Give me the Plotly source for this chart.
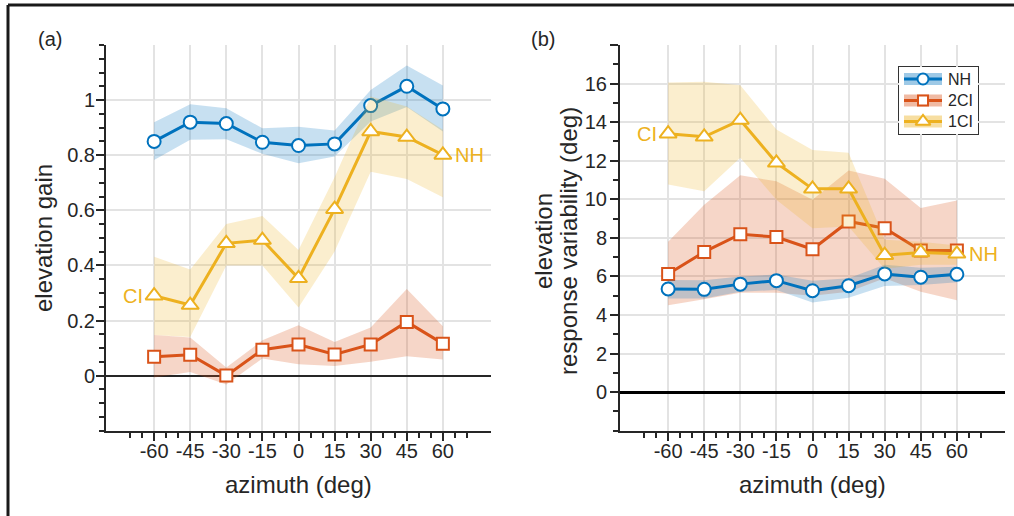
import plotly.graph_objects as go

# ---------------- data ----------------
azimuth = [-60, -45, -30, -15, 0, 15, 30, 45, 60]
x_major_ticks = [-60, -45, -30, -15, 0, 15, 30, 45, 60]
x_tick_labels = ["-60", "-45", "-30", "-15", "0", "15", "30", "45", "60"]
x_minor_ticks = [-70, -65, -55, -50, -40, -35, -25, -20, -10, -5, 5, 10, 20, 25, 35, 40, 50, 55, 65, 70]

# panel (a): elevation gain
gain_nh = [0.85, 0.92, 0.915, 0.847, 0.835, 0.841, 0.98, 1.05, 0.968]
gain_nh_hi = [0.92, 0.985, 0.97, 0.898, 0.903, 0.89, 1.037, 1.126, 1.053]
gain_nh_lo = [0.783, 0.856, 0.858, 0.805, 0.771, 0.795, 0.922, 0.975, 0.886]

gain_2ci = [0.068, 0.076, 0.0, 0.094, 0.113, 0.077, 0.113, 0.195, 0.116]
gain_2ci_hi = [0.147, 0.138, 0.029, 0.128, 0.183, 0.122, 0.175, 0.314, 0.179]
gain_2ci_lo = [-0.007, 0.013, -0.032, 0.062, 0.041, 0.035, 0.05, 0.07, 0.058]

gain_1ci = [0.29, 0.256, 0.48, 0.492, 0.353, 0.604, 0.886, 0.866, 0.801]
gain_1ci_hi = [0.431, 0.385, 0.55, 0.579, 0.456, 0.72, 1.013, 0.977, 0.892]
gain_1ci_lo = [0.147, 0.14, 0.40, 0.40, 0.247, 0.45, 0.74, 0.714, 0.647]

gain_tickvals = [0, 0.2, 0.4, 0.6, 0.8, 1]
gain_ticktext = ["0", "0.2", "0.4", "0.6", "0.8", "1"]

# panel (b): elevation response variability (deg)
var_nh = [5.35, 5.33, 5.6, 5.78, 5.26, 5.52, 6.13, 5.96, 6.11]
var_nh_hi = [5.82, 5.8, 6.0, 6.1, 5.78, 5.9, 6.6, 6.45, 6.5]
var_nh_lo = [4.85, 4.85, 5.2, 5.3, 4.65, 4.9, 5.5, 5.55, 5.7]

var_2ci = [6.13, 7.27, 8.19, 8.04, 7.41, 8.85, 8.5, 7.34, 7.34]
var_2ci_hi = [7.8, 9.72, 11.24, 10.93, 9.98, 11.49, 11.07, 9.55, 9.94]
var_2ci_lo = [4.51, 4.81, 5.15, 5.15, 5.0, 5.2, 5.9, 5.2, 4.77]

var_1ci = [13.4, 13.24, 14.11, 11.89, 10.54, 10.54, 7.1, 7.24, 7.17]
var_1ci_hi = [16.05, 16.09, 15.91, 13.62, 12.55, 12.41, 7.9, 7.8, 7.6]
var_1ci_lo = [10.76, 10.41, 12.15, 9.98, 8.5, 8.59, 6.4, 6.6, 6.6]

var_tickvals = [0, 2, 4, 6, 8, 10, 12, 14, 16, 18]
var_ticktext = ["0", "2", "4", "6", "8", "10", "12", "14", "16", ""]

series_names = ["NH", "2CI", "1CI"]
# --------------------------------------

colors = {"NH": "#0072BD", "2CI": "#D95319", "1CI": "#EDB120"}
bands = {"NH": "rgba(0,114,189,0.22)", "2CI": "rgba(217,83,25,0.24)", "1CI": "rgba(237,177,32,0.22)"}
legend_bands = {"NH": "rgba(0,114,189,0.38)", "2CI": "rgba(217,83,25,0.40)", "1CI": "rgba(237,177,32,0.42)"}
symbols = {"NH": "circle", "2CI": "square", "1CI": "triangle-up"}
msize = {"NH": 13, "2CI": 12, "1CI": 15}
FONT = "Liberation Sans, Arial, Helvetica, sans-serif"
AX = "#262626"

W, H = 1014, 516
fig = go.Figure()

def add_series(name, mean, hi, lo, xa, ya):
    fig.add_trace(go.Scatter(
        x=azimuth + azimuth[::-1], y=hi + lo[::-1], fill="toself",
        fillcolor=bands[name], line=dict(width=0), mode="lines",
        hoverinfo="skip", showlegend=False, xaxis=xa, yaxis=ya))
    fig.add_trace(go.Scatter(
        x=azimuth, y=mean, mode="lines+markers", name=name, showlegend=False,
        line=dict(color=colors[name], width=3),
        marker=dict(symbol=symbols[name], size=msize[name], color="white",
                    line=dict(color=colors[name], width=2)),
        xaxis=xa, yaxis=ya))

# drawing order: 2CI, NH, 1CI
add_series("2CI", gain_2ci, gain_2ci_hi, gain_2ci_lo, "x", "y")
add_series("NH", gain_nh, gain_nh_hi, gain_nh_lo, "x", "y")
add_series("1CI", gain_1ci, gain_1ci_hi, gain_1ci_lo, "x", "y")
add_series("2CI", var_2ci, var_2ci_hi, var_2ci_lo, "x2", "y2")
add_series("NH", var_nh, var_nh_hi, var_nh_lo, "x2", "y2")
add_series("1CI", var_1ci, var_1ci_hi, var_1ci_lo, "x2", "y2")

def px_x(p):
    return p / W

def px_y(p):
    return (H - p) / H

# legend box (drawn on a hidden helper axis in pixel units)
LEG_L, LEG_R, LEG_T, LEG_B = 899, 978, 67, 134
leg_rows = [79, 100.5, 121.5]
sw_x0, sw_x1, mk_x, txt_x = 904, 942, 923, 946
for name, ry in zip(series_names, leg_rows):
    fig.add_trace(go.Scatter(x=[sw_x0, sw_x1], y=[ry, ry], mode="lines",
                             line=dict(color=legend_bands[name], width=12),
                             showlegend=False, hoverinfo="skip", xaxis="x3", yaxis="y3"))
    fig.add_trace(go.Scatter(x=[sw_x0, sw_x1], y=[ry, ry], mode="lines",
                             line=dict(color=colors[name], width=3),
                             showlegend=False, hoverinfo="skip", xaxis="x3", yaxis="y3"))
    fig.add_trace(go.Scatter(x=[mk_x], y=[ry], mode="markers",
                             marker=dict(symbol=symbols[name], size=msize[name] - 2, color="white",
                                         line=dict(color=colors[name], width=2)),
                             showlegend=False, hoverinfo="skip", xaxis="x3", yaxis="y3"))

xdom1 = [px_x(106), px_x(491)]
xdom2 = [px_x(620), px_x(1005)]
ydom = [px_y(430.7), px_y(45)]

xcommon = dict(range=[-80, 80], tickvals=x_major_ticks, ticktext=x_tick_labels,
               ticks="outside", ticklen=8, ticklabelstandoff=-7,
               tickwidth=2, tickcolor=AX, showline=True, linecolor=AX, linewidth=2,
               showgrid=True, gridcolor="#e3e3e3", gridwidth=2, zeroline=False,
               tickfont=dict(family=FONT, size=20, color=AX),
               minor=dict(tickvals=x_minor_ticks, ticks="outside", ticklen=5,
                          tickwidth=2, tickcolor=AX, showgrid=False),
               fixedrange=True)

fig.update_layout(
    width=W, height=H, margin=dict(l=0, r=0, t=0, b=0),
    paper_bgcolor="white", plot_bgcolor="white",
    font=dict(family=FONT, color=AX),
    showlegend=False,
    xaxis=dict(domain=xdom1, anchor="y", **xcommon),
    xaxis2=dict(domain=xdom2, anchor="y2", **xcommon),
    yaxis=dict(domain=ydom, anchor="x", range=[-0.2, 1.2], tickvals=gain_tickvals,
               ticktext=gain_ticktext, ticks="outside", ticklen=8, tickwidth=2,
               tickcolor=AX, showline=True, linecolor=AX, linewidth=2,
               showgrid=True, gridcolor="#e3e3e3", gridwidth=2,
               zeroline=True, zerolinecolor=AX, zerolinewidth=2,
               tickfont=dict(family=FONT, size=20, color=AX), ticklabelstandoff=-3,
               minor=dict(tick0=0, dtick=0.05, ticks="outside", ticklen=5,
                          tickwidth=2, tickcolor=AX, showgrid=False)),
    yaxis2=dict(domain=ydom, anchor="x2", range=[-2, 18], tickvals=var_tickvals,
                ticktext=var_ticktext, ticks="outside", ticklen=8, tickwidth=2,
                tickcolor=AX, showline=True, linecolor=AX, linewidth=2,
                showgrid=True, gridcolor="#e3e3e3", gridwidth=2,
                zeroline=True, zerolinecolor="black", zerolinewidth=3,
                tickfont=dict(family=FONT, size=20, color=AX), ticklabelstandoff=-1,
                minor=dict(tick0=0, dtick=1, ticks="outside", ticklen=5,
                           tickwidth=2, tickcolor=AX, showgrid=False)),
    xaxis3=dict(domain=[px_x(LEG_L), px_x(LEG_R)], range=[LEG_L, LEG_R], visible=False,
                anchor="y3", fixedrange=True),
    yaxis3=dict(domain=[px_y(LEG_B), px_y(LEG_T)], range=[LEG_B, LEG_T], visible=False,
                anchor="x3", fixedrange=True),
)

shapes = []
# reference line at gain = 1
shapes.append(dict(type="line", xref="x domain", yref="y", x0=0, x1=1, y0=1, y1=1,
                   line=dict(color=AX, width=2), layer="below"))
# legend box
shapes.append(dict(type="rect", xref="paper", yref="paper",
                   x0=px_x(LEG_L), x1=px_x(LEG_R), y0=px_y(LEG_B), y1=px_y(LEG_T),
                   line=dict(color="#333333", width=2), fillcolor="white", layer="below"))
# figure frame (left and top edges)
shapes.append(dict(type="line", xref="paper", yref="paper", x0=px_x(8), x1=px_x(8),
                   y0=0, y1=px_y(5), line=dict(color="#1a1a1a", width=3)))
shapes.append(dict(type="line", xref="paper", yref="paper", x0=px_x(8), x1=1,
                   y0=px_y(5), y1=px_y(5), line=dict(color="#1a1a1a", width=3)))
fig.update_layout(shapes=shapes)

ann = []
tfont = dict(family=FONT, size=24, color=AX)
def pann(text, x, y, **kw):
    d = dict(text=text, x=px_x(x), y=px_y(y), xref="paper", yref="paper",
             xanchor="center", yanchor="middle", showarrow=False, font=tfont)
    d.update(kw)
    ann.append(d)

pann("elevation gain", 43, 238, textangle=-90)
pann("azimuth (deg)", 298.5, 484)
pann("azimuth (deg)", 812.5, 484)
pann("elevation", 543, 241, textangle=-90)
pann("response variability (deg)", 568, 241, textangle=-90)
pann("(a)", 36, 39, xanchor="left", font=dict(family=FONT, size=20, color=AX))
pann("(b)", 529, 39, xanchor="left", font=dict(family=FONT, size=20, color=AX))
for name, ry in zip(series_names, leg_rows):
    pann(name, txt_x, ry, xanchor="left", font=dict(family=FONT, size=16, color=AX))

lfont = dict(family=FONT, size=20, color=colors["1CI"])
ann.append(dict(text="CI", x=azimuth[0], y=gain_1ci[0], xref="x", yref="y",
                xanchor="right", yanchor="middle", xshift=-9, showarrow=False, font=lfont))
ann.append(dict(text="NH", x=azimuth[-1], y=gain_1ci[-1], xref="x", yref="y",
                xanchor="left", yanchor="middle", xshift=10, showarrow=False, font=lfont))
ann.append(dict(text="CI", x=azimuth[0], y=var_1ci[0], xref="x2", yref="y2",
                xanchor="right", yanchor="middle", xshift=-9, showarrow=False, font=lfont))
ann.append(dict(text="NH", x=azimuth[-1], y=var_1ci[-1], xref="x2", yref="y2",
                xanchor="left", yanchor="middle", xshift=10, showarrow=False, font=lfont))
fig.update_layout(annotations=ann)

fig.write_html("out.html")
